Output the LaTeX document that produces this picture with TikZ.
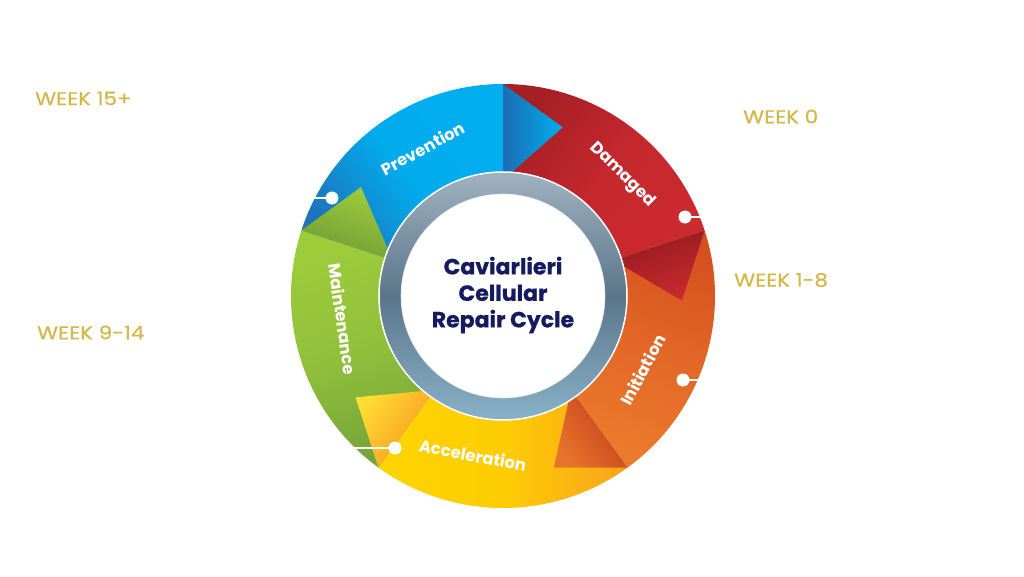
\documentclass[tikz,border=0pt]{standalone}
\usepackage{fontspec}
\setmainfont{Poppins}
\newfontfamily\weekfont{Poppins}[FakeBold=0.6, FakeStretch=1.16]
\newfontfamily\titlefont{Poppins}[BoldFeatures={FakeBold=0.7}]
\definecolor{blueD}{HTML}{1D74BA}
\definecolor{blueL}{HTML}{00AEEF}
\definecolor{blueTD}{HTML}{1B6DB3}
\definecolor{redD}{HTML}{A51F25}
\definecolor{redL}{HTML}{CB2A2F}
\definecolor{redTD}{HTML}{931A1F}
\definecolor{orgD}{HTML}{D64F1F}
\definecolor{orgL}{HTML}{EB7B2C}
\definecolor{orgTD}{HTML}{C13A1E}
\definecolor{yelD}{HTML}{F8A41B}
\definecolor{yelL}{HTML}{FFD400}
\definecolor{yelTD}{HTML}{F7921E}
\definecolor{grnD}{HTML}{74A53A}
\definecolor{grnL}{HTML}{9DCC3B}
\definecolor{grnTD}{HTML}{6E9B36}
\definecolor{ringL}{HTML}{A0B2C0}
\definecolor{ringD}{HTML}{5B768B}
\definecolor{navy}{HTML}{161A5E}
\definecolor{gold}{HTML}{D4B84A}
\tikzset{
  seglabel/.style={text=white, inner sep=0pt, font=\fontsize{16.5}{19}\selectfont\bfseries},
  weeklabel/.style={text=gold, inner sep=0pt, anchor=west, font=\fontsize{18.5}{22}\weekfont},
  dotline/.style={draw=white, line width=2pt},
  dotfill/.style={fill=white}
}
% sector: #1 start angle, #2 end angle
\newcommand{\sectorpath}[2]{(#1:212pt) arc[start angle=#1, end angle=#2, radius=212pt] -- (#2:116pt) arc[start angle=#2, end angle=#1, radius=116pt] -- cycle}
\newcommand{\tripath}[1]{(#1:116pt) -- (#1:212pt) -- ({#1-19.5}:179pt) -- cycle}
\begin{document}
\begin{tikzpicture}[x=1pt,y=1pt]
\useasboundingbox[fill=white] (-503,-280) rectangle (521,296);
% sectors
\shade[top color=blueD, bottom color=blueL, middle color=blueL!95!blueD, shading angle=126] \sectorpath{162}{90};
\shade[top color=redD, bottom color=redL, middle color=redL!80!redD, shading angle=54] \sectorpath{90}{18};
\shade[top color=orgD, bottom color=orgL, middle color=orgL!55!orgD, shading angle=-18] \sectorpath{18}{-54};
\shade[top color=yelD, bottom color=yelL, middle color=yelL!85!yelD, shading angle=-90] \sectorpath{-54}{-126};
\shade[top color=grnD, bottom color=grnL, middle color=grnL!70!grnD, shading angle=-162] \sectorpath{-126}{-198};
% arrow heads
\shade[top color=blueTD, bottom color=blueL, shading angle=90] \tripath{90};
\shade[top color=redTD, bottom color=redL, shading angle=18] \tripath{18};
\shade[top color=orgTD, bottom color=orgL!90!orgTD, shading angle=-54] \tripath{-54};
\shade[top color=yelTD, bottom color=yelL!80!white, shading angle=-126] \tripath{-126};
\shade[top color=grnTD, bottom color=grnL, shading angle=-198] \tripath{162};
% ring
\shade[even odd rule, top color=ringL, bottom color=ringL!85!blueL, middle color=ringD] (0,0) circle (124pt) (0,0) circle (102pt);
\draw[white, line width=1.5pt] (0,0) circle (124pt);
\draw[white!70!ringL, line width=0.6pt] (0,0) circle (102pt);
\fill[white] (0,0) circle (101.5pt);
% dots
\coordinate (d1) at (-171,98);  \coordinate (e1) at (-189.5,98);
\coordinate (d2) at (182,79);   \coordinate (e2) at (198,79);
\coordinate (d3) at (180,-84);  \coordinate (e3) at (196,-84);
\coordinate (d4) at (-108,-152);\coordinate (e4) at (-149,-152);
\foreach \i in {1,...,4}{
  \draw[dotline] (d\i) -- (e\i);
  \fill[dotfill] (d\i) circle (6.5pt);
}
% segment labels
\node[seglabel, rotate=28.5] (prev) at (118.5:168pt) {Prevention};
\node[seglabel, rotate=-44.6] (dam) at (45.4:170pt) {Damaged};
\node[seglabel, rotate=62.2] (init) at (-27.8:158pt) {Initiation};
\node[seglabel, rotate=-10.7] (acc) at (-100.7:162pt) {Acceleration};
\node[seglabel, rotate=-81.8] (main) at (-171.8:162pt) {Maintenance};
% centre title
\node[text=navy, align=center, inner sep=0pt, font=\fontsize{22}{26.5}\titlefont\bfseries] (title) at (0,1) {Caviarlieri\\Cellular\\Repair Cycle};
% week labels
\node[weeklabel] (w15) at (-468,197.5) {WEEK 15+};
\node[weeklabel] (w9) at (-466,-36.5) {WEEK 9-14};
\node[weeklabel] (w0) at (240,179.5) {WEEK 0};
\node[weeklabel] (w1) at (231,16) {WEEK 1-8};
\end{tikzpicture}
\end{document}
